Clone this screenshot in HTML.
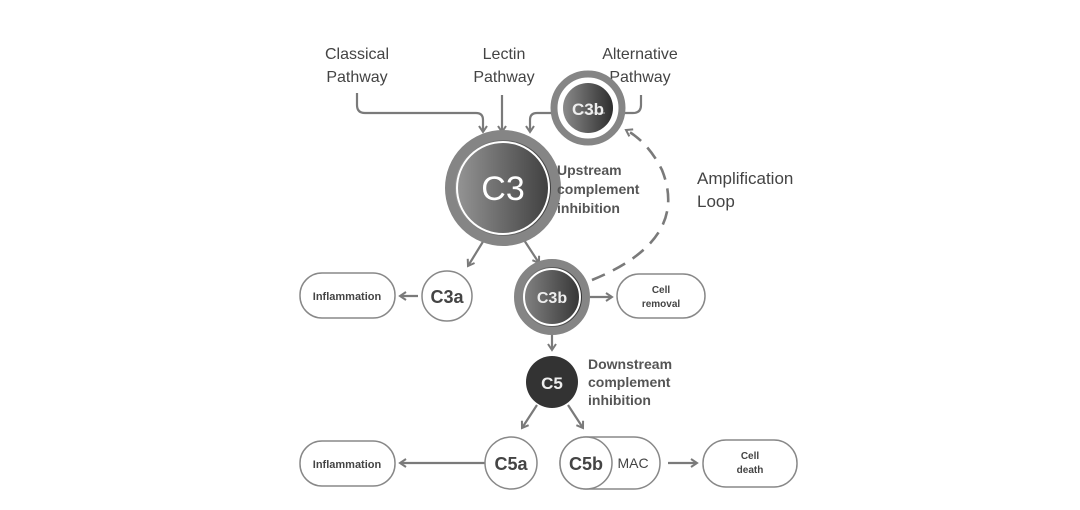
<!DOCTYPE html>
<html><head><style>
body{margin:0;background:#fff;}
svg{display:block;font-family:"Liberation Sans",sans-serif;}
</style></head><body>
<svg width="1080" height="510" viewBox="0 0 1080 510">
<defs>
<linearGradient id="g1" x1="0" x2="1" y1="0" y2="0"><stop offset="0" stop-color="#9a9a9a"/><stop offset="1" stop-color="#3a3a3a"/></linearGradient>
<linearGradient id="g2" x1="0" x2="1" y1="0" y2="0"><stop offset="0" stop-color="#8a8a8a"/><stop offset="1" stop-color="#2e2e2e"/></linearGradient>
<marker id="a" markerWidth="10" markerHeight="10" refX="7" refY="5" orient="auto" markerUnits="userSpaceOnUse"><path d="M1,1 L7,5 L1,9" fill="none" stroke="#7a7a7a" stroke-width="2"/></marker>
</defs>
<g fill="#444" font-size="16" text-anchor="middle">
<text x="357" y="59">Classical</text><text x="357" y="82">Pathway</text>
<text x="504" y="59">Lectin</text><text x="504" y="82">Pathway</text>
<text x="640" y="59">Alternative</text><text x="640" y="82">Pathway</text>
</g>
<g fill="none" stroke="#7a7a7a" stroke-width="2.2">
<path d="M357,93 V105 Q357,113 365,113 H476 Q483,113 483,120 V132" marker-end="url(#a)"/>
<path d="M502,95 V132" marker-end="url(#a)"/>
<path d="M641,95 V105 Q641,113 633,113 H537 Q530,113 530,120 V132" marker-end="url(#a)"/>
<path d="M484,240 L468,266" marker-end="url(#a)"/>
<path d="M524,240 L539,263" marker-end="url(#a)"/>
<path d="M418,296 H400" marker-end="url(#a)"/>
<path d="M590,297 H612" marker-end="url(#a)"/>
<path d="M552,335 V350" marker-end="url(#a)"/>
<path d="M537,405 L522,428" marker-end="url(#a)"/>
<path d="M568,405 L583,428" marker-end="url(#a)"/>
<path d="M485,463 H400" marker-end="url(#a)"/>
<path d="M668,463 H697" marker-end="url(#a)"/>
<path d="M592,280 Q690,240 662,170 Q648,142 626,130" stroke-dasharray="14,9" stroke-width="2.6" marker-end="url(#a)"/>
</g>
<!-- C3 -->
<circle cx="503" cy="188" r="53" fill="url(#g1)" stroke="#858585" stroke-width="10"/>
<circle cx="503" cy="188" r="46" fill="none" stroke="#fff" stroke-width="2"/>
<text x="503" y="200" font-size="34" fill="#fff" text-anchor="middle">C3</text>
<!-- top C3b -->
<circle cx="588" cy="108" r="34" fill="#fff" stroke="#858585" stroke-width="7"/>
<circle cx="588" cy="108" r="25" fill="url(#g2)"/>
<path d="M572,113 H605" stroke="#7a7a7a" stroke-width="2"/>
<text x="588" y="115" font-size="17" font-weight="bold" fill="#eee" text-anchor="middle">C3b</text>
<g fill="#555" font-size="14" font-weight="bold">
<text x="557" y="175">Upstream</text><text x="557" y="194">complement</text><text x="557" y="213">inhibition</text>
<text x="588" y="369">Downstream</text><text x="588" y="387">complement</text><text x="588" y="405">inhibition</text>
</g>
<g fill="#444" font-size="17"><text x="697" y="184">Amplification</text><text x="697" y="207">Loop</text></g>
<!-- mid C3b -->
<circle cx="552" cy="297" r="34" fill="url(#g2)" stroke="#858585" stroke-width="8"/>
<circle cx="552" cy="297" r="28" fill="none" stroke="#fff" stroke-width="2"/>
<text x="552" y="303" font-size="16" font-weight="bold" fill="#eee" text-anchor="middle">C3b</text>
<g fill="#fff" stroke="#888" stroke-width="1.5">
<rect x="300" y="273" width="95" height="45" rx="22"/>
<circle cx="447" cy="296" r="25"/>
<rect x="617" y="274" width="88" height="44" rx="22"/>
<rect x="300" y="441" width="95" height="45" rx="22"/>
<circle cx="511" cy="463" r="26"/>
<rect x="560" y="437" width="100" height="52" rx="26"/>
<circle cx="586" cy="463" r="26"/>
<rect x="703" y="440" width="94" height="47" rx="23"/>
</g>
<circle cx="552" cy="382" r="26" fill="#333"/>
<g text-anchor="middle" fill="#444">
<text x="347" y="300" font-size="11" font-weight="bold">Inflammation</text>
<text x="347" y="468" font-size="11" font-weight="bold">Inflammation</text>
<text x="447" y="303" font-size="18" font-weight="bold">C3a</text>
<text x="661" y="293" font-size="10" font-weight="bold">Cell</text><text x="661" y="307" font-size="10" font-weight="bold">removal</text>
<text x="750" y="459" font-size="10" font-weight="bold">Cell</text><text x="750" y="473" font-size="10" font-weight="bold">death</text>
<text x="552" y="389" font-size="17" font-weight="bold" fill="#eee">C5</text>
<text x="511" y="470" font-size="18" font-weight="bold">C5a</text>
<text x="586" y="470" font-size="18" font-weight="bold">C5b</text>
<text x="633" y="468" font-size="14">MAC</text>
</g>
</svg>
</body></html>
